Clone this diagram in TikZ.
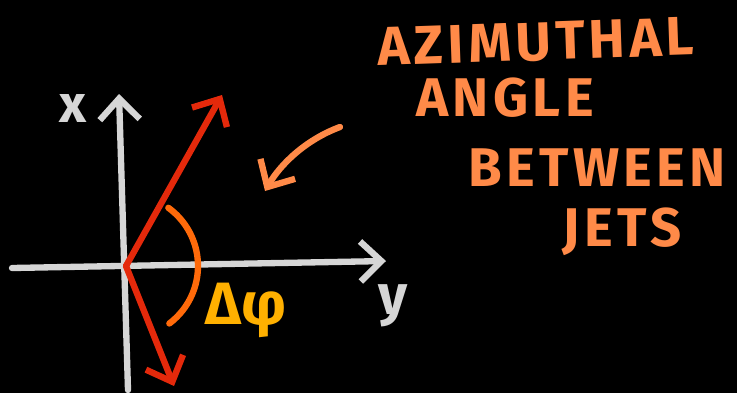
\documentclass[tikz,border=0pt]{standalone}
\usepackage{fontspec}
\setmainfont{Fira Sans}
\usetikzlibrary{arrows.meta}

\definecolor{chalk}{HTML}{D6D6D6}
\definecolor{jetred}{HTML}{E4290B}
\definecolor{arcorange}{HTML}{FF6A0A}
\definecolor{phiyellow}{HTML}{FFB000}
\definecolor{noteorange}{HTML}{FF8A48}

\tikzset{
  chalkline/.style={line width=3.6pt, line cap=round},
  barb/.style={-{Straight Barb[length=4.2mm, width=8mm, line width=3.6pt]}},
  notetext/.style={text=noteorange, font=\fontsize{31}{34}\selectfont\bfseries\addfontfeatures{LetterSpace=8}},
}

\begin{document}
\begin{tikzpicture}[x=0.02cm, y=-0.02cm]
  % fondo
  \fill[black] (0,0) rectangle (737,393);
  \useasboundingbox (0,0) rectangle (737,393);
  % puntos
  \coordinate (O) at (126,266);
  \coordinate (yl) at (12,268);
  \coordinate (yr) at (386,261);
  \coordinate (xb) at (128,390);
  \coordinate (xt) at (119,94);
  \coordinate (jup) at (222,95);
  \coordinate (jdn) at (174,386);
  \coordinate (ps) at (340,127);
  \coordinate (pe) at (265,191);
  % ejes
  \draw[chalkline, chalk, barb] (yl)--(yr);
  \draw[chalkline, chalk, barb] (xb)--(xt);
  \node[text=chalk, font=\fontsize{30}{32}\selectfont\bfseries] (xlab) at (73,108){x};
  \node[text=chalk, font=\fontsize{32}{34}\selectfont\bfseries] (ylab) at (393,306){y};
  % jets
  \draw[chalkline, jetred, barb] (O)--(jup);
  \draw[chalkline, jetred, barb] (O)--(jdn);
  % arco del angulo
  \draw[chalkline, arcorange] (O) ++(53:72) arc[start angle=53, end angle=-54, radius=72];
  \node[text=phiyellow, font=\fontsize{34}{36}\selectfont\bfseries] (dphi) at (246,310){Δφ};
  % nota
  \draw[chalkline, noteorange, barb] (ps) .. controls (305,140) and (280,165) .. (pe);
  \node[notetext, rotate=2] (az) at (536,42){AZIMUTHAL};
  \node[notetext] (an) at (505,98){ANGLE};
  \node[notetext] (bt) at (597,168){BETWEEN};
  \node[notetext] (jt) at (622,232){JETS};
\end{tikzpicture}
\end{document}
